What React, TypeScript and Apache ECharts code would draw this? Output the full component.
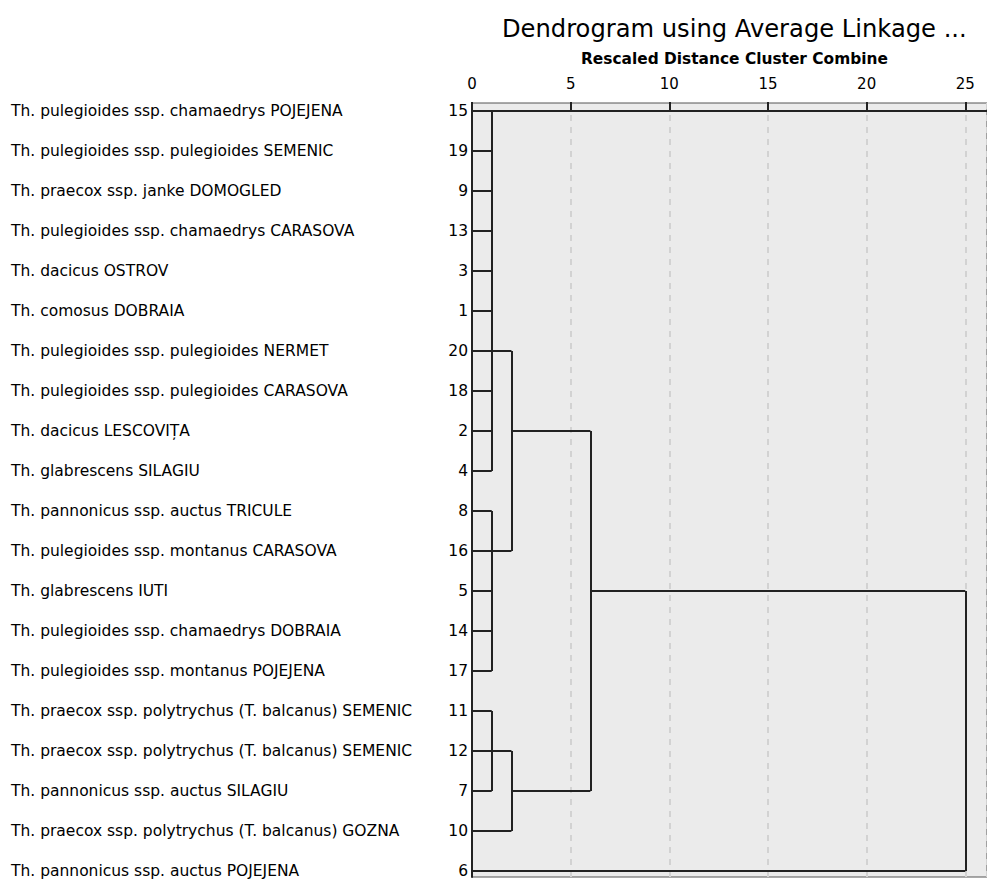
import React, { useEffect, useRef } from "react";
import * as echarts from "echarts";

// Case numbers in dendrogram order (top to bottom)
const leafIds = ["15", "19", "9", "13", "3", "1", "20", "18", "2", "4", "8", "16", "5", "14", "17", "11", "12", "7", "10", "6"];

// Case labels in dendrogram order
const leafNames = [
  "Th. pulegioides ssp. chamaedrys POJEJENA",
  "Th. pulegioides ssp. pulegioides SEMENIC",
  "Th. praecox ssp. janke DOMOGLED",
  "Th. pulegioides ssp. chamaedrys CARASOVA",
  "Th. dacicus OSTROV",
  "Th. comosus DOBRAIA",
  "Th. pulegioides ssp. pulegioides NERMET",
  "Th. pulegioides ssp. pulegioides CARASOVA",
  "Th. dacicus LESCOVIȚA",
  "Th. glabrescens SILAGIU",
  "Th. pannonicus ssp. auctus TRICULE",
  "Th. pulegioides ssp. montanus CARASOVA",
  "Th. glabrescens IUTI",
  "Th. pulegioides ssp. chamaedrys DOBRAIA",
  "Th. pulegioides ssp. montanus POJEJENA",
  "Th. praecox ssp. polytrychus (T. balcanus) SEMENIC",
  "Th. praecox ssp. polytrychus (T. balcanus) SEMENIC",
  "Th. pannonicus ssp. auctus SILAGIU",
  "Th. praecox ssp. polytrychus (T. balcanus) GOZNA",
  "Th. pannonicus ssp. auctus POJEJENA",
];

// Merge stages: children are leaf row indices (numbers) or earlier merge names (strings)
const mergeNames = ["A", "B", "C", "AB", "CD", "ABCD", "root"];
const mergeChildren: (number | string)[][] = [
  [0, 1, 2, 3, 4, 5, 6, 7, 8, 9],
  [10, 11, 12, 13, 14],
  [15, 16, 17],
  ["A", "B"],
  ["C", 18],
  ["AB", "CD"],
  ["ABCD", 19],
];
// Rescaled distance at which each merge happens
const mergeHeights = [1, 1, 1, 2, 2, 6, 25];
// Row from which each merged cluster connects to its parent
const mergeJoinRows = [6, 11, 16, 8, 17, 12, 19];

// Axis ticks (rescaled distance)
const xMin = 0;
const xMax = 26.1;
const xInterval = 5;

const FONT = "DejaVu Sans";

function buildSegments() {
  const idx = (n: string) => mergeNames.indexOf(n);
  const nodeX = (c: number | string) => (typeof c === "number" ? 0 : mergeHeights[idx(c)]);
  const nodeRow = (c: number | string) => (typeof c === "number" ? c : mergeJoinRows[idx(c)]);
  const segs: { coords: number[][] }[] = [];
  mergeChildren.forEach((children, i) => {
    const h = mergeHeights[i];
    const rows = children.map(nodeRow);
    segs.push({ coords: [[h, Math.min(...rows)], [h, Math.max(...rows)]] });
    children.forEach((c) => {
      segs.push({ coords: [[nodeX(c), nodeRow(c)], [h, nodeRow(c)]] });
    });
  });
  return segs;
}

export default function App() {
  const ref = useRef<HTMLDivElement>(null);
  useEffect(() => {
    if (!ref.current) return;
    const chart = echarts.init(ref.current, undefined, { renderer: "svg" });
    chart.setOption({
      animation: false,
      backgroundColor: "#ffffff",
      title: [
        {
          text: "Dendrogram using Average Linkage ...",
          left: 497,
          top: 12,
          textStyle: { fontFamily: FONT, fontSize: 24.2, fontWeight: "normal", color: "#000000" },
        },
        {
          text: "Rescaled Distance Cluster Combine",
          left: 576,
          top: 46,
          textStyle: { fontFamily: FONT, fontSize: 15.4, fontWeight: "bold", color: "#000000" },
        },
      ],
      grid: [
        {
          left: 472,
          top: 103,
          right: -2,
          bottom: 23,
          show: true,
          backgroundColor: "#ebebeb",
          borderColor: "#555555",
          borderWidth: 1,
        },
        { left: 472, top: 91, right: -2, height: 800, show: false },
      ],
      xAxis: [
        {
          type: "value",
          gridIndex: 0,
          position: "top",
          min: xMin,
          max: xMax,
          interval: xInterval,
          axisLine: { show: true, lineStyle: { color: "#222222", width: 2 } },
          axisTick: { show: true, length: 9, lineStyle: { color: "#222222", width: 2 } },
          axisLabel: {
            show: true,
            margin: 12,
            showMaxLabel: false,
            fontFamily: FONT,
            fontSize: 15,
            color: "#000000",
            formatter: (v: number) => (v % xInterval === 0 ? String(v) : ""),
          },
          splitLine: { show: true, lineStyle: { color: "#d2d2d2", width: 2, type: [6, 6] } },
        },
        { type: "value", gridIndex: 1, show: false, min: 0, max: 1 },
      ],
      yAxis: [
        {
          type: "value",
          gridIndex: 0,
          inverse: true,
          min: -0.2,
          max: 19.15,
          axisLine: { show: true, onZero: false, lineStyle: { color: "#222222", width: 2 } },
          axisTick: { show: false },
          axisLabel: { show: false },
          splitLine: { show: false },
        },
        {
          type: "category",
          gridIndex: 1,
          inverse: true,
          data: leafIds,
          axisLine: { show: false },
          axisTick: { show: false },
          splitLine: { show: false },
          axisLabel: { fontFamily: FONT, fontSize: 15.5, color: "#000000", margin: 4 },
        },
        {
          type: "category",
          gridIndex: 1,
          inverse: true,
          data: leafNames,
          position: "left",
          axisLine: { show: false },
          axisTick: { show: false },
          splitLine: { show: false },
          axisLabel: { fontFamily: FONT, fontSize: 15.5, color: "#000000", margin: 461, align: "left" },
        },
      ],
      series: [
        {
          type: "lines",
          coordinateSystem: "cartesian2d",
          xAxisIndex: 0,
          yAxisIndex: 0,
          silent: true,
          lineStyle: { color: "#222222", width: 2, opacity: 1 },
          data: buildSegments(),
        },
        {
          type: "scatter",
          xAxisIndex: 1,
          yAxisIndex: 1,
          data: [],
          silent: true,
        },
      ],
    });
    return () => chart.dispose();
  }, []);
  return (
    <div style={{ position: "fixed", left: 0, top: 0, width: 987, height: 879, overflow: "hidden" }}>
      <div ref={ref} style={{ width: 987, height: 900 }} />
    </div>
  );
}
